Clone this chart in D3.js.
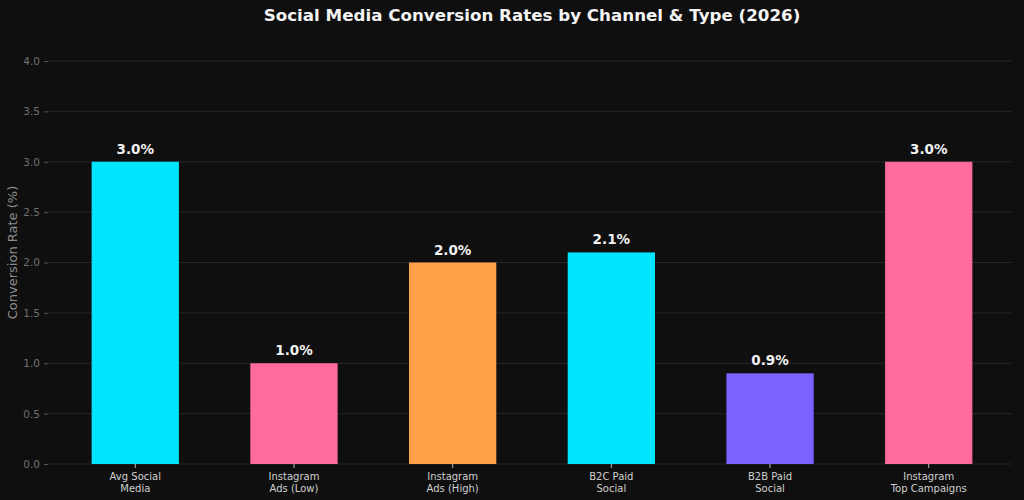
<!DOCTYPE html>
<html>
<head>
<meta charset="utf-8">
<script src="https://cdn.jsdelivr.net/npm/d3@7"></script>
<style>
  html, body { margin: 0; padding: 0; background: #0f0f0f; }
  svg { display: block; font-family: "DejaVu Sans", sans-serif; }
</style>
</head>
<body>
<svg id="chart" width="1024" height="500"></svg>
<script>
const categories = [
    ["Avg Social", "Media"],
    ["Instagram", "Ads (Low)"],
    ["Instagram", "Ads (High)"],
    ["B2C Paid", "Social"],
    ["B2B Paid", "Social"],
    ["Instagram", "Top Campaigns"]
];
const rates = [3.0, 1.0, 2.0, 2.1, 0.9, 3.0];
const barColors = ["#00e5ff", "#ff6b9d", "#ffa048", "#00e5ff", "#7b61ff", "#ff6b9d"];
const yTicks = [0, 0.5, 1.0, 1.5, 2.0, 2.5, 3.0, 3.5, 4.0];

const PLOT = { left: 48, right: 1016, top: 40, bottom: 464 };
const BAR_WIDTH = 0.55;

const svg = d3.select("#chart");

const x = d3.scaleLinear()
    .domain([-0.55, categories.length - 1 + 0.55])
    .range([PLOT.left, PLOT.right]);

const y = d3.scaleLinear()
    .domain([0, 4.0])
    .range([PLOT.bottom, 61]);

// grid
svg.append("g")
    .selectAll("line")
    .data(yTicks)
    .join("line")
    .attr("x1", PLOT.left)
    .attr("x2", PLOT.right - 4)
    .attr("y1", d => y(d))
    .attr("y2", d => y(d))
    .attr("stroke", "#262626")
    .attr("stroke-width", 1);

// y axis
const yAxis = svg.append("g")
    .attr("transform", `translate(${ PLOT.left }, 0)`)
    .call(d3.axisLeft(y).tickValues(yTicks).tickFormat(d3.format(".1f")).tickSize(4).tickPadding(4));
yAxis.select(".domain").remove();
yAxis.selectAll(".tick line").attr("stroke", "#555");
yAxis.selectAll(".tick text")
    .attr("fill", "#6f6f6f")
    .style("font-size", "10.5px")
    .style("font-family", "DejaVu Sans");

// bars
svg.append("g")
    .selectAll("rect")
    .data(rates)
    .join("rect")
    .attr("x", (d, i) => x(i - BAR_WIDTH / 2))
    .attr("width", (d, i) => x(i + BAR_WIDTH / 2) - x(i - BAR_WIDTH / 2))
    .attr("y", d => y(d))
    .attr("height", d => y(0) - y(d))
    .attr("fill", (d, i) => barColors[i]);

// value labels
svg.append("g")
    .selectAll("text")
    .data(rates)
    .join("text")
    .attr("x", (d, i) => x(i))
    .attr("y", d => y(d) - 8)
    .attr("text-anchor", "middle")
    .attr("fill", "#f2f2f2")
    .style("font-size", "13.5px")
    .style("font-weight", "bold")
    .text(d => `${ d.toFixed(1) }%`);

// x ticks + labels
const xTick = svg.append("g")
    .selectAll("g")
    .data(categories)
    .join("g")
    .attr("transform", (d, i) => `translate(${ x(i) }, ${ PLOT.bottom })`);

xTick.append("line")
    .attr("y1", 0)
    .attr("y2", 4)
    .attr("stroke", "#bbb");

xTick.append("text")
    .attr("text-anchor", "middle")
    .attr("fill", "#d0d0d0")
    .style("font-size", "10px")
    .selectAll("tspan")
    .data(d => d)
    .join("tspan")
    .attr("x", 0)
    .attr("y", (d, i) => 16 + i * 11.5)
    .text(d => d);

// axis title
svg.append("text")
    .attr("transform", `translate(17, ${ (PLOT.bottom + 61) / 2 - 10 }) rotate(-90)`)
    .attr("text-anchor", "middle")
    .attr("fill", "#8c8c8c")
    .style("font-size", "13px")
    .text("Conversion Rate (%)");

// title
svg.append("text")
    .attr("x", 532)
    .attr("y", 21)
    .attr("text-anchor", "middle")
    .attr("fill", "#f5f5f5")
    .style("font-size", "16.7px")
    .style("font-weight", "bold")
    .text("Social Media Conversion Rates by Channel & Type (2026)");
</script>
</body>
</html>
